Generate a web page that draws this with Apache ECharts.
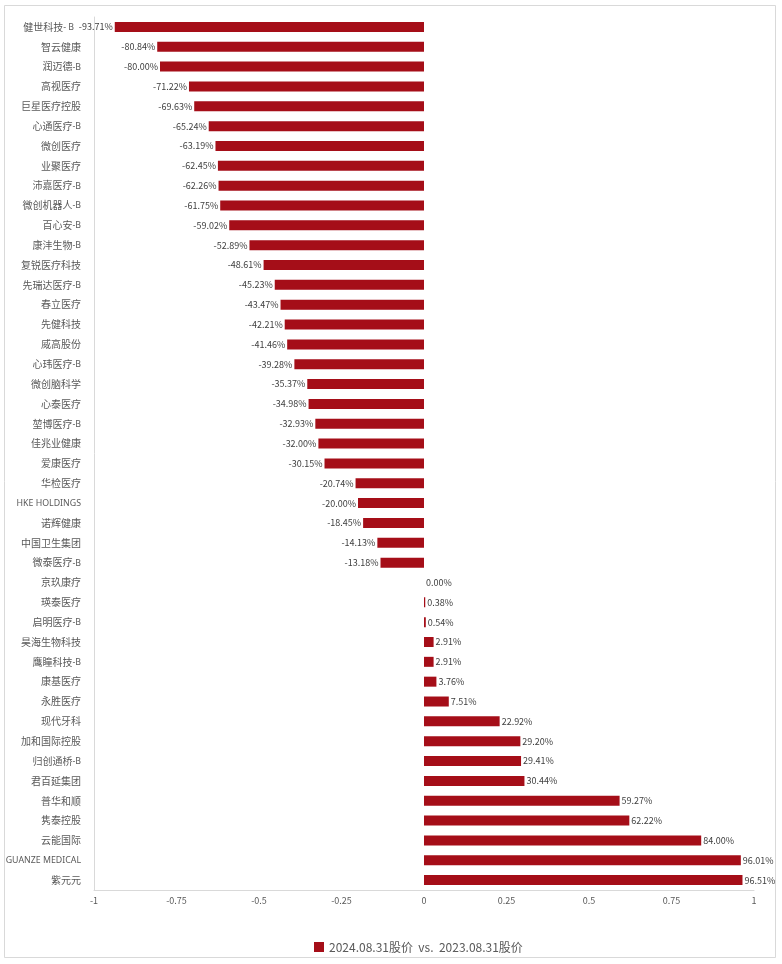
<!DOCTYPE html>
<html>
<head>
<meta charset="utf-8">
<script src="https://cdn.jsdelivr.net/npm/echarts@6/dist/echarts.min.js"></script>
<style>
html,body{margin:0;padding:0;background:#fff;}
#chart{width:782px;height:964px;}
</style>
</head>
<body>
<div id="chart"></div>
<script>
// Companies, top to bottom
var companies = [
  '健世科技- B','智云健康','润迈德-B','高视医疗','巨星医疗控股','心通医疗-B','微创医疗','业聚医疗',
  '沛嘉医疗-B','微创机器人-B','百心安-B','康沣生物-B','复锐医疗科技','先瑞达医疗-B','春立医疗','先健科技',
  '威高股份','心玮医疗-B','微创脑科学','心泰医疗','堃博医疗-B','佳兆业健康','爱康医疗','华检医疗',
  'HKE HOLDINGS','诺辉健康','中国卫生集团','微泰医疗-B','京玖康疗','瑛泰医疗','启明医疗-B','昊海生物科技',
  '鹰瞳科技-B','康基医疗','永胜医疗','现代牙科','加和国际控股','归创通桥-B','君百延集团','普华和顺',
  '隽泰控股','云能国际','GUANZE MEDICAL','紫元元'
];
// Share price change, 2024.08.31 vs 2023.08.31 (fraction)
var changes = [
  -0.9371,-0.8084,-0.8000,-0.7122,-0.6963,-0.6524,-0.6319,-0.6245,
  -0.6226,-0.6175,-0.5902,-0.5289,-0.4861,-0.4523,-0.4347,-0.4221,
  -0.4146,-0.3928,-0.3537,-0.3498,-0.3293,-0.3200,-0.3015,-0.2074,
  -0.2000,-0.1845,-0.1413,-0.1318,0.0000,0.0038,0.0054,0.0291,
  0.0291,0.0376,0.0751,0.2292,0.2920,0.2941,0.3044,0.5927,
  0.6222,0.8400,0.9601,0.9651
];
var seriesName = '2024.08.31股价  vs.  2023.08.31股价';
var xTicks = { min: -1, max: 1, interval: 0.25 };

var font = '"Noto Sans CJK SC","Noto Sans",sans-serif';
var barColor = '#A50E18';

// Negative bars carry their label on the left end
var barData = changes.map(function (v) {
  return v < 0 ? {value: v, label: {position: 'left'}} : {value: v};
});

// The longest bar's label reaches into the category column; nudge that name left
var categoryData = companies.map(function (name, i) {
  return i === 0 ? {value: name, textStyle: {padding: [0, 7, 0, 0]}} : name;
});

// Latin runs in the category names are set a little smaller than the CJK text
function splitRuns(name) {
  var out = '';
  var re = /([\u3000-\u9fff]+)|([^\u3000-\u9fff]+)/g, m;
  while ((m = re.exec(name)) !== null) {
    if (m[1]) out += '{c|' + m[1] + '}';
    else out += '{l|' + m[2] + '}';
  }
  return out;
}

var chart = echarts.init(document.getElementById('chart'), null, {renderer: 'canvas'});
chart.setOption({
  backgroundColor: '#fff',
  animation: false,
  graphic: [{
    type: 'rect',
    shape: {x: 4.5, y: 5.5, width: 771, height: 952},
    style: {fill: 'none', stroke: '#d9d9d9', lineWidth: 1},
    silent: true, z: -1
  }],
  grid: {left: 94, right: 28, top: 17, bottom: 74, containLabel: false, outerBoundsMode: 'none'},
  legend: {
    bottom: 6, left: 309,
    itemWidth: 10, itemHeight: 10, itemGap: 8,
    textStyle: {fontFamily: font, fontSize: 12, color: '#595959'},
    data: [{name: seriesName, icon: 'rect'}]
  },
  xAxis: {
    type: 'value', min: xTicks.min, max: xTicks.max, interval: xTicks.interval,
    axisLine: {show: true, lineStyle: {color: '#d9d9d9'}},
    axisTick: {show: false},
    splitLine: {show: false},
    axisLabel: {fontFamily: font, fontSize: 9, color: '#595959', margin: 6,
      formatter: function (v) { return String(Math.round(v * 100) / 100); }}
  },
  yAxis: {
    type: 'category', inverse: true, data: categoryData,
    axisLine: {show: true, onZero: false, lineStyle: {color: '#d9d9d9'}},
    axisTick: {show: false},
    axisLabel: {
      color: '#595959', margin: 13,
      formatter: splitRuns,
      rich: {
        c: {fontFamily: font, fontSize: 10, color: '#595959', lineHeight: 14, verticalAlign: 'middle'},
        l: {fontFamily: '"Noto Sans",sans-serif', fontSize: 8.8, color: '#595959', lineHeight: 14, verticalAlign: 'middle', padding: [1, 0, 0, 0]}
      }
    }
  },
  series: [{
    name: seriesName, type: 'bar', data: barData, barWidth: 10,
    itemStyle: {color: barColor},
    label: {
      show: true, fontFamily: font, fontSize: 9, color: '#404040', distance: 2,
      position: 'right',
      formatter: function (p) { return (p.value * 100).toFixed(2) + '%'; }
    }
  }]
});
</script>
</body>
</html>
